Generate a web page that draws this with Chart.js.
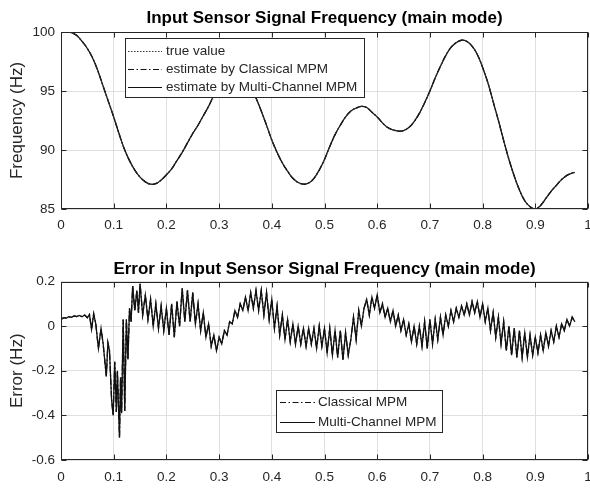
<!DOCTYPE html>
<html>
<head>
<meta charset="utf-8">
<script src="https://cdn.jsdelivr.net/npm/chart.js@4.4.1/dist/chart.umd.min.js"></script>
<style>
  html, body { margin: 0; padding: 0; background: #fff; }
  .panel { position: relative; width: 590px; height: 244px; }
</style>
</head>
<body>
<div class="panel"><canvas id="freqChart" width="590" height="244"></canvas></div>
<div class="panel"><canvas id="errChart" width="590" height="244"></canvas></div>
<script>
// ---- data ----
const freqTime = [
  0, 0.01, 0.02, 0.03, 0.04, 0.05, 0.06, 0.07, 0.08, 0.09,
  0.10, 0.11, 0.12, 0.13, 0.14, 0.15, 0.16, 0.17, 0.18, 0.19,
  0.20, 0.21, 0.22, 0.23, 0.24, 0.25, 0.26, 0.27, 0.28, 0.29,
  0.30, 0.31, 0.32, 0.33, 0.34, 0.35, 0.36, 0.37, 0.38, 0.39,
  0.40, 0.41, 0.42, 0.43, 0.44, 0.45, 0.46, 0.47, 0.48, 0.49,
  0.50, 0.51, 0.52, 0.53, 0.54, 0.55, 0.56, 0.57, 0.58, 0.59,
  0.60, 0.61, 0.62, 0.63, 0.64, 0.65, 0.66, 0.67, 0.68, 0.69,
  0.70, 0.71, 0.72, 0.73, 0.74, 0.75, 0.76, 0.77, 0.78, 0.79,
  0.80, 0.81, 0.82, 0.83, 0.84, 0.85, 0.86, 0.87, 0.88, 0.89,
  0.90, 0.91, 0.92, 0.93, 0.94, 0.95, 0.96, 0.97, 0.975
];
const freqValue = [
  100.0, 100.0, 99.95, 99.7, 99.2, 98.6, 97.8, 96.7, 95.4, 94.1,
  92.8, 91.4, 90.1, 89.1, 88.3, 87.7, 87.3, 87.1, 87.15, 87.45,
  87.9, 88.4, 89.1, 89.8, 90.6, 91.4, 92.1, 92.9, 93.7, 94.6,
  95.3, 95.9, 96.4, 96.6, 96.5, 96.0, 95.3, 94.4, 93.3, 92.1,
  90.85, 89.8, 88.9, 88.2, 87.6, 87.25, 87.1, 87.2, 87.6, 88.3,
  89.2, 90.3, 91.3, 92.1, 92.8, 93.3, 93.55, 93.7, 93.6, 93.2,
  92.8, 92.3, 91.9, 91.7, 91.6, 91.65, 91.9, 92.4, 93.1, 94.0,
  95.0, 96.1, 97.1, 98.0, 98.7, 99.1, 99.3, 99.2, 98.8, 98.1,
  97.0, 95.7, 94.1, 92.5, 90.8, 89.2, 87.8, 86.6, 85.7, 85.2,
  85.0, 85.3, 85.9, 86.5, 87.0, 87.5, 87.85, 88.05, 88.1
];

const errTime = [
  0, 0.005, 0.01, 0.015, 0.02, 0.025, 0.03, 0.035, 0.04, 0.045,
  0.05, 0.054, 0.058, 0.062, 0.066, 0.071, 0.076, 0.08, 0.086, 0.089,
  0.092, 0.096, 0.099, 0.102, 0.105, 0.107, 0.111, 0.113, 0.115, 0.118,
  0.121, 0.124, 0.127, 0.13, 0.133, 0.136, 0.14, 0.144, 0.147, 0.15,
  0.155, 0.16,
  0.165, 0.17, 0.175, 0.18, 0.185, 0.19, 0.195, 0.2, 0.205, 0.21,
  0.215, 0.22, 0.225, 0.23, 0.235, 0.24, 0.245, 0.25, 0.255, 0.26,
  0.265, 0.27, 0.275, 0.28, 0.285, 0.29, 0.295, 0.3, 0.305, 0.31,
  0.315, 0.32, 0.325, 0.33, 0.335, 0.34, 0.345, 0.35, 0.355, 0.36,
  0.365, 0.37, 0.375, 0.38, 0.385, 0.39, 0.395, 0.4, 0.405, 0.41,
  0.415, 0.42, 0.425, 0.43, 0.435, 0.44, 0.445, 0.45, 0.455, 0.46,
  0.465, 0.47, 0.475, 0.48, 0.485, 0.49, 0.495, 0.5, 0.505, 0.51,
  0.515, 0.52, 0.525, 0.53, 0.535, 0.54, 0.545, 0.55, 0.555, 0.56,
  0.565, 0.57, 0.575, 0.58, 0.585, 0.59, 0.595, 0.6, 0.605, 0.61,
  0.615, 0.62, 0.625, 0.63, 0.635, 0.64, 0.645, 0.65, 0.655, 0.66,
  0.665, 0.67, 0.675, 0.68, 0.685, 0.69, 0.695, 0.7, 0.705, 0.71,
  0.715, 0.72, 0.725, 0.73, 0.735, 0.74, 0.745, 0.75, 0.755, 0.76,
  0.765, 0.77, 0.775, 0.78, 0.785, 0.79, 0.795, 0.8, 0.805, 0.81,
  0.815, 0.82, 0.825, 0.83, 0.835, 0.84, 0.845, 0.85, 0.855, 0.86,
  0.865, 0.87, 0.875, 0.88, 0.885, 0.89, 0.895, 0.9, 0.905, 0.91,
  0.915, 0.92, 0.925, 0.93, 0.935, 0.94, 0.945, 0.95, 0.955, 0.96,
  0.965, 0.97, 0.975
];
const errValue = [
  0.030, 0.038, 0.036, 0.042, 0.040, 0.046, 0.043, 0.048, 0.042, 0.050,
  0.038, 0.052, -0.015, 0.055, 0.010, -0.100, -0.010, -0.080, -0.225, -0.075,
  -0.110, -0.330, -0.400, -0.160, -0.385, -0.200, -0.500, -0.230, -0.390, 0.030,
  -0.380, 0.030, -0.150, 0.080, 0.020, 0.180, 0.070, 0.160, 0.060, 0.190,
  0.050, 0.140,
  0.03, 0.12, 0.00, 0.10, -0.01, 0.09, -0.02, 0.08, -0.04, 0.10,
  -0.05, 0.11, 0.00, 0.17, 0.02, 0.16, 0.02, 0.15, 0.01, 0.10,
  -0.02, 0.06, -0.05, 0.01, -0.09, -0.04, -0.11, -0.05, -0.08, -0.02,
  -0.04, 0.02, 0.01, 0.07, 0.04, 0.10, 0.07, 0.13, 0.07, 0.15,
  0.08, 0.16, 0.07, 0.16, 0.05, 0.15, 0.03, 0.12, -0.01, 0.09,
  -0.04, 0.05, -0.06, 0.03, -0.07, 0.01, -0.08, 0.00, -0.08, -0.01,
  -0.09, -0.01, -0.08, -0.01, -0.10, 0.00, -0.09, -0.01, -0.12, -0.01,
  -0.13, -0.02, -0.14, -0.02, -0.15, -0.03, -0.13, -0.06, 0.04, -0.06,
  0.07, 0.00, 0.08, 0.12, 0.05, 0.13, 0.08, 0.14, 0.06, 0.10,
  0.04, 0.08, 0.02, 0.07, 0.00, 0.05, -0.02, 0.03, -0.04, 0.01,
  -0.07, 0.00, -0.08, 0.00, -0.09, 0.02, -0.10, 0.03, -0.08, 0.03,
  -0.06, 0.04, -0.04, 0.05, 0.00, 0.07, 0.02, 0.08, 0.04, 0.09,
  0.05, 0.10, 0.05, 0.11, 0.06, 0.11, 0.04, 0.10, 0.02, 0.08,
  -0.02, 0.06, -0.05, 0.04, -0.08, 0.02, -0.11, 0.00, -0.13, -0.01,
  -0.14, -0.02, -0.14, -0.03, -0.14, -0.04, -0.13, -0.05, -0.12, -0.04,
  -0.11, -0.03, -0.09, -0.02, -0.07, 0.00, -0.05, 0.01, -0.02, 0.03,
  0.00, 0.04, 0.02
];

const freqLabels = ['true value', 'estimate by Classical MPM', 'estimate by Multi-Channel MPM'];
const errLabels = ['Classical MPM', 'Multi-Channel MPM'];
const freqTicks = { min: 85, max: 100, step: 5 };
const errTicks = { min: -0.6, max: 0.2, step: 0.2 };
const timeTicks = { min: 0, max: 1, step: 0.1 };

// ---- helpers ----
const INK = '#262626';
const FONT = "'Liberation Sans', Arial, Helvetica, sans-serif";

function toPoints(xs, ys) {
  return xs.map((x, i) => ({ x: x, y: ys[i] }));
}

// short labels like MATLAB: 0, 0.1, ..., 1
function shortLabel(v) {
  return String(Number(Number(v).toFixed(2)));
}

// MATLAB-like box with inward tick marks
const framePlugin = {
  id: 'frame',
  afterDatasetsDraw(chart) {
    const { ctx, chartArea: a, scales } = chart;
    const L = Math.round(a.left) + 0.5, R = Math.round(a.right) - 0.5;
    const T = Math.round(a.top) + 0.5, B = Math.round(a.bottom) - 0.5;
    ctx.save();
    ctx.strokeStyle = INK;
    ctx.lineWidth = 1;
    ctx.beginPath();
    scales.x.ticks.forEach(t => {
      const px = Math.round(scales.x.getPixelForValue(t.value)) + 0.5;
      ctx.moveTo(px, B); ctx.lineTo(px, B - 5);
      ctx.moveTo(px, T); ctx.lineTo(px, T + 5);
    });
    scales.y.ticks.forEach(t => {
      const py = Math.round(scales.y.getPixelForValue(t.value)) + 0.5;
      ctx.moveTo(L, py); ctx.lineTo(L + 5, py);
      ctx.moveTo(R, py); ctx.lineTo(R - 5, py);
    });
    ctx.stroke();
    ctx.strokeRect(L, T, R - L, B - T);
    ctx.restore();
  }
};

// legend box placed inside the axes, like MATLAB's
const boxLegendPlugin = {
  id: 'boxLegend',
  afterDraw(chart, args, o) {
    const { ctx, chartArea: a } = chart;
    const x0 = Math.round(a.left + o.left) + 0.5;
    const y0 = Math.round(a.top + o.top) + 0.5;
    ctx.save();
    ctx.fillStyle = '#fff';
    ctx.fillRect(x0, y0, o.width, o.height);
    ctx.strokeStyle = INK;
    ctx.lineWidth = 1;
    ctx.strokeRect(x0, y0, o.width, o.height);
    ctx.font = o.fontSize + 'px ' + FONT;
    ctx.textBaseline = 'middle';
    ctx.textAlign = 'left';
    chart.data.datasets.forEach((ds, i) => {
      const y = Math.round(a.top + o.rows[i]) + 0.5;
      ctx.strokeStyle = ds.borderColor;
      ctx.lineWidth = 1;
      ctx.setLineDash(ds.borderDash || []);
      ctx.beginPath();
      ctx.moveTo(a.left + o.sampleLeft, y);
      ctx.lineTo(a.left + o.sampleRight, y);
      ctx.stroke();
      ctx.setLineDash([]);
      ctx.fillStyle = INK;
      ctx.fillText(ds.label, a.left + o.textLeft, y);
    });
    ctx.restore();
  }
};

function axisOptions(ticks, titleText, xHeight, xPad) {
  return {
    x: {
      type: 'linear',
      min: timeTicks.min,
      max: timeTicks.max,
      ticks: { stepSize: timeTicks.step, color: INK, padding: xPad, font: { family: FONT, size: 13.5 }, callback: shortLabel },
      grid: { color: '#dfdfdf', drawTicks: false },
      border: { display: false },
      afterFit(scale) { scale.height = xHeight; scale.paddingLeft = 0; scale.paddingRight = 0; }
    },
    y: {
      min: ticks.min,
      max: ticks.max,
      ticks: { stepSize: ticks.step, color: INK, padding: 6, font: { family: FONT, size: 13.5 }, callback: shortLabel },
      grid: { color: '#dfdfdf', drawTicks: false },
      border: { display: false },
      title: { display: true, text: titleText, color: INK, padding: { top: 7, bottom: 0 }, font: { family: FONT, size: 17 } },
      afterFit(scale) { scale.width = 61; scale.paddingTop = 0; scale.paddingBottom = 0; }
    }
  };
}

function titleOptions(text, padTop, padBottom) {
  return {
    display: true,
    text: text,
    fullSize: false,
    color: '#000',
    font: { family: FONT, size: 17, weight: 'bold' },
    padding: { top: padTop, bottom: padBottom }
  };
}

// ---- top: frequency ----
new Chart(document.getElementById('freqChart'), {
  type: 'line',
  data: {
    datasets: [
      { label: freqLabels[0], data: toPoints(freqTime, freqValue), borderColor: '#333', borderWidth: 1, borderDash: [1.5, 1.5] },
      { label: freqLabels[1], data: toPoints(freqTime, freqValue), borderColor: '#111', borderWidth: 1.3, borderDash: [6, 2.5, 1.5, 2.5] },
      { label: freqLabels[2], data: toPoints(freqTime, freqValue), borderColor: '#111', borderWidth: 1.3 }
    ]
  },
  options: {
    responsive: false,
    devicePixelRatio: 1,
    animation: false,
    layout: { padding: { left: 0, right: 2, top: 0, bottom: 0 } },
    elements: { point: { radius: 0 }, line: { tension: 0.4 } },
    scales: axisOptions(freqTicks, 'Frequency (Hz)', 35, 8),
    plugins: {
      legend: { display: false },
      tooltip: { enabled: false },
      title: titleOptions('Input Sensor Signal Frequency (main mode)', 7.8, 3.8),
      boxLegend: { left: 64, top: 6, width: 239, height: 59, rows: [19, 37, 55], sampleLeft: 67, sampleRight: 101, textLeft: 105, fontSize: 13.5 }
    }
  },
  plugins: [framePlugin, boxLegendPlugin]
});

// ---- bottom: error ----
new Chart(document.getElementById('errChart'), {
  type: 'line',
  data: {
    datasets: [
      { label: errLabels[0], data: toPoints(errTime, errValue), borderColor: '#111', borderWidth: 1.3, borderDash: [6, 2.5, 1.5, 2.5] },
      { label: errLabels[1], data: toPoints(errTime, errValue), borderColor: '#111', borderWidth: 1.3 }
    ]
  },
  options: {
    responsive: false,
    devicePixelRatio: 1,
    animation: false,
    layout: { padding: { left: 0, right: 2, top: 0, bottom: 0 } },
    elements: { point: { radius: 0 }, line: { tension: 0 } },
    scales: axisOptions(errTicks, 'Error (Hz)', 28, 9),
    plugins: {
      legend: { display: false },
      tooltip: { enabled: false },
      title: titleOptions('Error in Input Sensor Signal Frequency (main mode)', 14.8, 2.3),
      boxLegend: { left: 215, top: 108.5, width: 166, height: 42, rows: [120.2, 140.2], sampleLeft: 219, sampleRight: 254, textLeft: 257, fontSize: 13.5 }
    }
  },
  plugins: [framePlugin, boxLegendPlugin]
});
</script>
</body>
</html>
